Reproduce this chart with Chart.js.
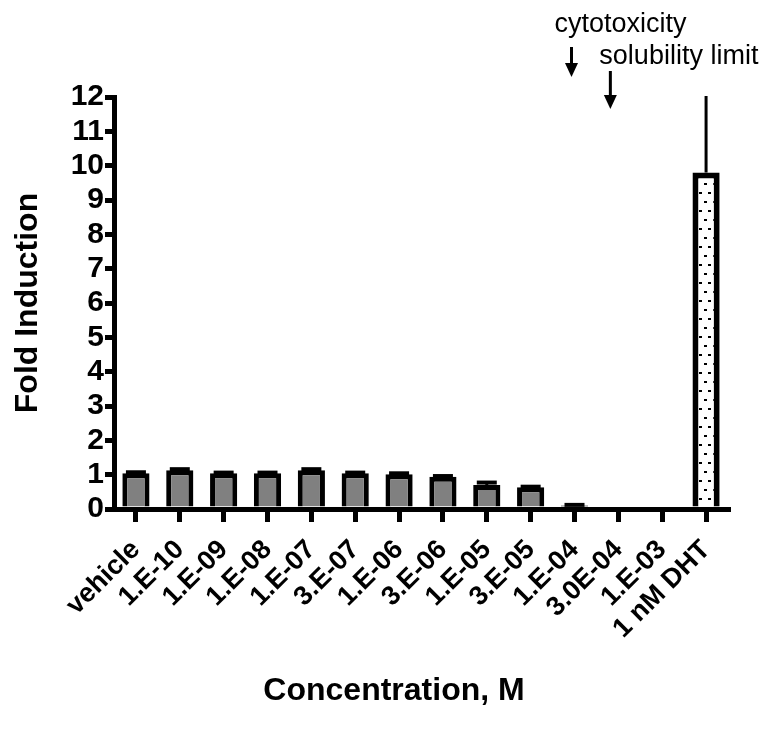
<!DOCTYPE html>
<html>
<head>
<meta charset="utf-8">
<script src="https://cdn.jsdelivr.net/npm/chart.js@4.4.1/dist/chart.umd.min.js"></script>
<style>
  html, body { margin: 0; padding: 0; background: #fff; }
</style>
</head>
<body>
<canvas id="foldChart" width="772" height="732"></canvas>
<script>
// values
const categories = ["vehicle", "1.E-10", "1.E-09", "1.E-08", "1.E-07", "3.E-07", "1.E-06",
  "3.E-06", "1.E-05", "3.E-05", "1.E-04", "3.0E-04", "1.E-03", "1 nM DHT"];
const foldValues = [1.04, 1.13, 1.04, 1.04, 1.13, 1.04, 1.01, 0.94, 0.70, 0.63, 0.10, 0, 0, 9.8];
const foldErrors = [0.03, 0.03, 0.02, 0.02, 0.03, 0.02, 0.03, 0.02, 0.07, 0.02, 0.02, 0, 0, 2.3];
const yMin = 0, yMax = 12, yStep = 1;
const noteLabels = ["cytotoxicity", "solubility limit"];
const noteAt = ["1.E-04", "3.0E-04"];

const font = "'Liberation Sans', Arial, sans-serif";
const canvas = document.getElementById("foldChart");
const chartCtx = canvas.getContext("2d");

// stippled fill for the DHT bar
function dotPattern() {
  const c = document.createElement("canvas");
  c.width = 9; c.height = 18;
  const g = c.getContext("2d");
  g.fillStyle = "#fff";
  g.fillRect(0, 0, 9, 18);
  g.fillStyle = "#000";
  g.fillRect(2, 3, 3, 2);
  g.fillRect(6, 12, 3, 2);
  return chartCtx.createPattern(c, "repeat");
}

const isDHT = categories.map(c => c.indexOf("DHT") >= 0);
const fills = isDHT.map(d => d ? dotPattern() : "#808080");
const borders = isDHT.map(d => d ? 6 : 5);

const errorBars = {
  id: "errorBars",
  afterDatasetsDraw(chart) {
    const ctx = chart.ctx;
    const y = chart.scales.y;
    const meta = chart.getDatasetMeta(0);
    ctx.save();
    ctx.strokeStyle = "#000";
    meta.data.forEach((bar, i) => {
      const err = foldErrors[i];
      if (!err) return;
      const top = foldValues[i] + err;
      // clipped at the axis maximum, like the original
      const yTop = y.getPixelForValue(Math.min(top, yMax)) - (top > yMax ? 1 : 0);
      ctx.lineWidth = 3;
      ctx.beginPath();
      ctx.moveTo(bar.x, bar.y);
      ctx.lineTo(bar.x, yTop);
      ctx.stroke();
      if (top < yMax) {
        ctx.lineWidth = 4;
        ctx.beginPath();
        ctx.moveTo(bar.x - 10, yTop);
        ctx.lineTo(bar.x + 10, yTop);
        ctx.stroke();
      }
    });
    ctx.restore();
  }
};

const notes = {
  id: "notes",
  afterDraw(chart) {
    const ctx = chart.ctx;
    const x = chart.scales.x;
    const top = chart.chartArea.top;
    // [x shift, text dx, text baseline, arrow start, arrow tip] relative to tick / plot top
    const place = [[-3, -17, -65, -50, -20], [-8, -11, -33, -26, 12]];
    ctx.save();
    ctx.fillStyle = "#000";
    ctx.strokeStyle = "#000";
    noteLabels.forEach((txt, i) => {
      const p = place[i];
      const ax = x.getPixelForValue(categories.indexOf(noteAt[i])) + p[0];
      ctx.font = "27px " + font;
      ctx.textAlign = "left";
      ctx.textBaseline = "alphabetic";
      ctx.fillText(txt, ax + p[1], top + p[2]);
      const y0 = top + p[3], tip = top + p[4];
      ctx.lineWidth = 3;
      ctx.beginPath();
      ctx.moveTo(ax, y0);
      ctx.lineTo(ax, tip - 12);
      ctx.stroke();
      ctx.beginPath();
      ctx.moveTo(ax - 6.5, tip - 14);
      ctx.lineTo(ax + 6.5, tip - 14);
      ctx.lineTo(ax, tip);
      ctx.closePath();
      ctx.fill();
    });
    // x axis title
    ctx.font = "bold 32px " + font;
    ctx.textAlign = "center";
    ctx.textBaseline = "alphabetic";
    ctx.fillText("Concentration, M", 394, 700);
    ctx.restore();
  }
};

new Chart(chartCtx, {
  type: "bar",
  data: {
    labels: categories,
    datasets: [{
      data: foldValues,
      backgroundColor: fills,
      borderColor: "#000",
      borderWidth: borders,
      barPercentage: 0.62,
      categoryPercentage: 1
    }]
  },
  options: {
    responsive: false,
    animation: false,
    layout: { padding: { top: 97, right: 44, left: 0, bottom: 0 } },
    plugins: { legend: { display: false }, tooltip: { enabled: false } },
    scales: {
      x: {
        offset: true,
        grid: { offset: false, drawOnChartArea: false, tickLength: 13, lineWidth: 5, color: "#000" },
        border: { display: true, width: 5, color: "#000" },
        ticks: {
          color: "#000", autoSkip: false, maxRotation: 45, minRotation: 45, padding: 12,
          font: { family: font, size: 27, weight: "bold" }
        },
        afterFit(s) { s.height = 223; }
      },
      y: {
        min: yMin, max: yMax,
        grid: { drawOnChartArea: false, tickLength: 9, lineWidth: 5, color: "#000" },
        border: { display: true, width: 5, color: "#000" },
        ticks: {
          stepSize: yStep, autoSkip: false, color: "#000", padding: 1,
          font: { family: font, size: 30, weight: "bold" }
        },
        title: {
          display: true, text: "Fold Induction", color: "#000",
          font: { family: font, size: 32, weight: "bold" },
          padding: { top: 9, bottom: 0 }
        },
        afterFit(s) { s.width = 114; }
      }
    }
  },
  plugins: [errorBars, notes]
});
</script>
</body>
</html>
